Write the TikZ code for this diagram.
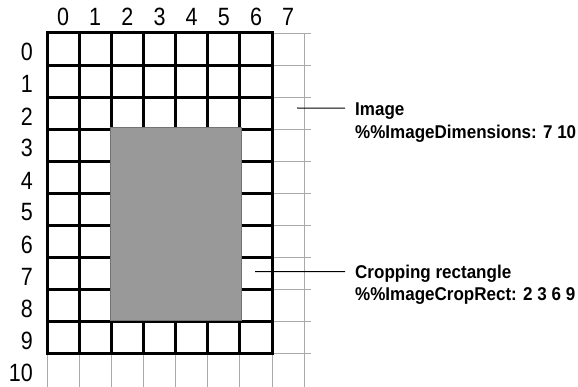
\documentclass[tikz,border=0pt]{standalone}
\usepackage{fontspec}
\setmainfont{Liberation Sans}
\newfontfamily\notefont{Liberation Sans}[FakeStretch=0.92]
\newfontfamily\idxfont{Liberation Sans}[FakeStretch=0.86]
\definecolor{cropgray}{HTML}{999999}
\definecolor{gridgray}{HTML}{AAAAAA}

\begin{document}
\begin{tikzpicture}[x=1pt, y=-1pt,
    thin grid/.style={draw=gridgray, line width=0.9pt},
    pixel grid/.style={draw=black, line width=3pt},
    idx/.style={font=\idxfont\fontsize{25}{27}\selectfont, inner sep=0pt},
    note/.style={font=\notefont\bfseries\fontsize{18.5}{20}\selectfont, inner xsep=10pt, inner ysep=0pt,
        text height=15pt, text depth=0pt, anchor=base west},
    pointer/.style={draw=black, line width=1pt}]
    \useasboundingbox (0,0) rectangle (578,387);

    \begin{scope}[shift={(47,33)}, x=32.15pt, y=-32.05pt]
    % Light grid of the whole page
    \foreach \i in {0,...,8}
        \draw[thin grid] (\i,0) -- (\i,11.05);
    \foreach \j in {0,...,10}
        \draw[thin grid] (0,\j) -- (8.2,\j);

    % Image samples
    \foreach \i in {1,...,6}
        \draw[pixel grid] (\i,0) -- (\i,10);
    \foreach \j in {1,...,9}
        \draw[pixel grid] (0,\j) -- (7,\j);
    \draw[pixel grid] (0,0) rectangle (7,10);

    % Cropping rectangle
    \draw[fill=cropgray, draw=gray!90!black, line width=0.5pt] (1.953,2.953) rectangle (6.047,8.953);

    % Column and row numbers
    \foreach \i in {0,...,7}
        \node[idx] (col\i) at (\i+0.5,-0.5) {\i};
    \foreach \j in {0,...,10}
        \node[idx, anchor=east] (row\j) at (-0.435,\j+0.6) {\j};
    \end{scope}

    % Notes
    \node[note] (imgtitle) at (345,115.7) {Image};
    \node[note] (imgdims) at (345,138.3) {\%\%ImageDimensions: 7 10};
    \node[note] (croptitle) at (345,279) {Cropping rectangle};
    \node[note] (croprect) at (345,300.7) {\%\%ImageCropRect: 2 3 6 9};

    % Pointers
    \coordinate (imgtip) at (297,108);
    \coordinate (croptip) at (255,271.7);
    \draw[pointer] (imgtip) -- (imgtitle.west);
    \draw[pointer] (croptip) -- (croptitle.west);
\end{tikzpicture}
\end{document}
